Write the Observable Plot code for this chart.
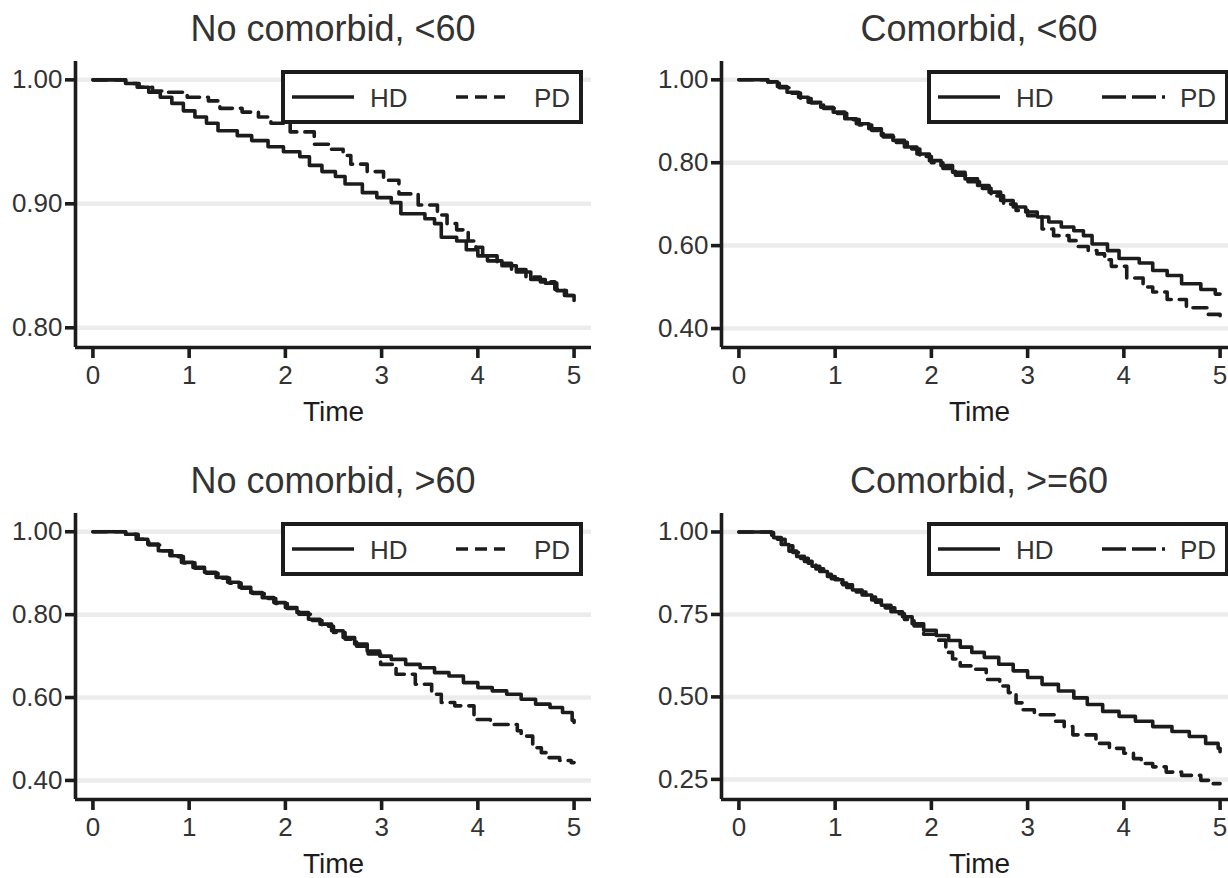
<!DOCTYPE html>
<html><head><meta charset="utf-8">
<script src="https://cdn.jsdelivr.net/npm/d3@7"></script>
<script src="https://cdn.jsdelivr.net/npm/@observablehq/plot@0.6"></script>
<style>
html,body{margin:0;padding:0;background:#fff;overflow:hidden;}
#fig{position:relative;width:1228px;height:878px;overflow:hidden;background:#fff;font-family:"Liberation Sans",Arial,sans-serif;}
.title{position:absolute;font-size:36px;line-height:36px;color:#333;text-align:center;white-space:nowrap;}
.plotbox{position:absolute;}
.plotbox svg{max-width:none !important;}
.legend{position:absolute;}
</style></head><body><div id="fig"></div>
<script>
// ---- data ----
const timeTicks = [0, 1, 2, 3, 4, 5];
const panelTitles = ["No comorbid, <60", "Comorbid, <60", "No comorbid, >60", "Comorbid, >=60"];
const seriesNames = ["HD", "PD"];
const yTicksNoComLt60 = [0.80, 0.90, 1.00];
const yTicksComLt60 = [0.40, 0.60, 0.80, 1.00];
const yTicksNoComGt60 = [0.40, 0.60, 0.80, 1.00];
const yTicksComGe60 = [0.25, 0.50, 0.75, 1.00];

const hdNoComLt60 = [[0,1.000],[0.34,0.997],[0.46,0.994],[0.58,0.990],[0.70,0.986],[0.82,0.981],[0.94,0.975],[1.06,0.970],[1.18,0.965],[1.30,0.959],[1.50,0.955],[1.65,0.951],[1.82,0.946],[1.98,0.942],[2.15,0.938],[2.25,0.931],[2.38,0.926],[2.52,0.922],[2.62,0.916],[2.80,0.909],[2.95,0.905],[3.10,0.901],[3.20,0.892],[3.45,0.888],[3.55,0.884],[3.62,0.873],[3.78,0.870],[3.88,0.863],[4.00,0.858],[4.10,0.854],[4.25,0.850],[4.40,0.845],[4.55,0.839],[4.70,0.836],[4.82,0.830],[4.92,0.826],[5.00,0.822]];
const pdNoComLt60 = [[0,1.000],[0.34,0.997],[0.48,0.994],[0.62,0.991],[0.78,0.990],[0.98,0.986],[1.20,0.983],[1.32,0.977],[1.55,0.974],[1.72,0.970],[1.85,0.965],[2.05,0.958],[2.30,0.948],[2.45,0.944],[2.60,0.939],[2.68,0.932],[2.85,0.926],[3.02,0.919],[3.18,0.908],[3.38,0.899],[3.58,0.891],[3.68,0.884],[3.78,0.879],[3.90,0.870],[3.98,0.865],[4.05,0.858],[4.20,0.852],[4.35,0.847],[4.50,0.841],[4.65,0.837],[4.80,0.831],[4.90,0.826],[5.00,0.822]];

const hdComLt60 = [[0,1.000],[0.30,0.995],[0.40,0.984],[0.50,0.970],[0.62,0.958],[0.72,0.946],[0.85,0.934],[0.98,0.922],[1.10,0.906],[1.22,0.894],[1.35,0.882],[1.48,0.866],[1.60,0.854],[1.72,0.838],[1.85,0.821],[1.98,0.805],[2.10,0.793],[2.22,0.777],[2.35,0.761],[2.48,0.745],[2.60,0.729],[2.72,0.709],[2.85,0.693],[2.98,0.681],[3.10,0.669],[3.22,0.657],[3.35,0.645],[3.48,0.636],[3.58,0.624],[3.67,0.604],[3.83,0.588],[3.95,0.569],[4.16,0.558],[4.30,0.540],[4.45,0.528],[4.60,0.508],[4.80,0.494],[4.95,0.483],[5.00,0.483]];
const pdComLt60 = [[0,1.000],[0.30,0.995],[0.42,0.981],[0.52,0.968],[0.64,0.955],[0.75,0.944],[0.88,0.931],[1.00,0.919],[1.12,0.904],[1.25,0.891],[1.38,0.878],[1.50,0.862],[1.62,0.849],[1.75,0.833],[1.88,0.815],[2.00,0.800],[2.12,0.786],[2.25,0.770],[2.38,0.754],[2.50,0.738],[2.62,0.720],[2.75,0.700],[2.88,0.685],[3.00,0.672],[3.15,0.640],[3.27,0.624],[3.43,0.612],[3.52,0.598],[3.63,0.588],[3.72,0.580],[3.80,0.566],[3.87,0.550],[4.03,0.522],[4.20,0.500],[4.30,0.488],[4.45,0.470],[4.65,0.450],[4.87,0.434],[5.00,0.431]];

const hdNoComGt60 = [[0,1.000],[0.34,0.994],[0.45,0.982],[0.57,0.970],[0.68,0.954],[0.80,0.942],[0.92,0.926],[1.04,0.914],[1.16,0.902],[1.28,0.890],[1.40,0.878],[1.52,0.866],[1.64,0.853],[1.76,0.841],[1.88,0.829],[2.00,0.817],[2.12,0.805],[2.24,0.789],[2.36,0.777],[2.48,0.761],[2.60,0.745],[2.72,0.729],[2.85,0.712],[2.98,0.700],[3.10,0.692],[3.25,0.680],[3.40,0.672],[3.55,0.660],[3.70,0.652],[3.85,0.636],[4.00,0.624],[4.15,0.616],[4.30,0.608],[4.45,0.596],[4.60,0.584],[4.75,0.576],[4.88,0.564],[4.98,0.545],[5.00,0.540]];
const pdNoComGt60 = [[0,1.000],[0.34,0.994],[0.47,0.982],[0.58,0.968],[0.70,0.954],[0.82,0.940],[0.94,0.925],[1.06,0.912],[1.18,0.900],[1.30,0.888],[1.42,0.876],[1.54,0.864],[1.66,0.851],[1.78,0.839],[1.90,0.827],[2.02,0.815],[2.14,0.801],[2.26,0.786],[2.38,0.772],[2.50,0.757],[2.62,0.741],[2.74,0.724],[2.86,0.705],[2.99,0.680],[3.15,0.656],[3.35,0.632],[3.52,0.608],[3.62,0.588],[3.76,0.580],[3.96,0.547],[4.13,0.535],[4.41,0.520],[4.45,0.507],[4.57,0.479],[4.66,0.467],[4.74,0.455],[4.85,0.448],[4.97,0.443],[5.00,0.443]];

const hdComGe60 = [[0,1.000],[0.34,0.998],[0.36,0.983],[0.44,0.962],[0.52,0.942],[0.60,0.926],[0.68,0.911],[0.76,0.896],[0.84,0.880],[0.92,0.865],[1.00,0.855],[1.08,0.840],[1.18,0.824],[1.28,0.809],[1.38,0.794],[1.48,0.778],[1.58,0.758],[1.70,0.743],[1.80,0.722],[1.92,0.702],[2.05,0.686],[2.18,0.671],[2.30,0.651],[2.42,0.635],[2.55,0.620],[2.70,0.599],[2.85,0.579],[3.00,0.559],[3.15,0.538],[3.32,0.518],[3.48,0.497],[3.62,0.477],[3.78,0.456],[3.95,0.441],[4.12,0.426],[4.30,0.410],[4.50,0.395],[4.68,0.380],[4.85,0.359],[4.98,0.344],[5.00,0.334]];
const pdComGe60 = [[0,1.000],[0.34,0.990],[0.40,0.978],[0.48,0.958],[0.56,0.938],[0.64,0.920],[0.72,0.905],[0.80,0.888],[0.88,0.872],[0.96,0.858],[1.04,0.845],[1.12,0.832],[1.22,0.818],[1.32,0.803],[1.42,0.787],[1.52,0.770],[1.62,0.752],[1.72,0.735],[1.82,0.715],[1.92,0.690],[2.05,0.672],[2.15,0.635],[2.22,0.615],[2.30,0.594],[2.42,0.584],[2.57,0.553],[2.71,0.533],[2.80,0.513],[2.88,0.482],[2.95,0.461],[3.07,0.446],[3.29,0.426],[3.38,0.410],[3.47,0.385],[3.71,0.359],[3.85,0.344],[4.00,0.329],[4.10,0.313],[4.18,0.298],[4.30,0.288],[4.44,0.272],[4.60,0.262],[4.80,0.247],[4.92,0.237],[5.00,0.237]];

// ---- layout ----
const ink = "#1c1c1c";
const fontFam = '"Liberation Sans", Arial, sans-serif';
const xDom = [-0.181, 5.181];
const panels = [
  {title: panelTitles[0], hd: hdNoComLt60, pd: pdNoComLt60, yTicks: yTicksNoComLt60, yDomain: [0.7841, 1.0148], ox: 0, oy: 0, legDash: "12,7", legLen: 49},
  {title: panelTitles[1], hd: hdComLt60, pd: pdComLt60, yTicks: yTicksComLt60, yDomain: [0.3542, 1.0442], ox: 646, oy: 0, legDash: "24,6", legLen: 63},
  {title: panelTitles[2], hd: hdNoComGt60, pd: pdNoComGt60, yTicks: yTicksNoComGt60, yDomain: [0.354, 1.044], ox: 0, oy: 452, legDash: "12,7", legLen: 49},
  {title: panelTitles[3], hd: hdComGe60, pd: pdComGe60, yTicks: yTicksComGe60, yDomain: [0.189, 1.056], ox: 646, oy: 452, legDash: "24,6", legLen: 63}
];

const fig = document.getElementById("fig");
const W = 614, mL = 75, mR = 23, svgTopOff = 50, H = 385, mT = 11, mB = 88;

for (const p of panels) {
  const t = document.createElement("div");
  t.className = "title";
  t.textContent = p.title;
  t.style.left = (p.ox + mL) + "px";
  t.style.width = (W - mL - mR) + "px";
  t.style.top = (p.oy + 11) + "px";
  fig.appendChild(t);

  const chart = Plot.plot({
    width: W, height: H,
    marginLeft: mL, marginRight: mR, marginTop: mT, marginBottom: mB,
    style: {fontFamily: fontFam, fontSize: "26px", color: ink, background: "transparent", overflow: "visible", maxWidth: "none"},
    x: {domain: xDom},
    y: {domain: p.yDomain},
    marks: [
      Plot.ruleY(p.yTicks, {stroke: "#ececec", strokeWidth: 4.5}),
      Plot.line(p.hd, {x: d => d[0], y: d => d[1], curve: "step-after", stroke: ink, strokeWidth: 3.6}),
      Plot.line(p.pd, {x: d => d[0], y: d => d[1], curve: "step-after", stroke: ink, strokeWidth: 3.6, strokeDasharray: "14,8"}),
      Plot.ruleX([xDom[0]], {stroke: ink, strokeWidth: 3.6}),
      Plot.ruleY([p.yDomain[0]], {stroke: ink, strokeWidth: 3.6}),
      Plot.axisY({ticks: p.yTicks, tickFormat: d => d.toFixed(2), tickSize: 10, tickPadding: 3, strokeWidth: 3.6, fontSize: 26, fill: "#333", label: null}),
      Plot.axisX({ticks: timeTicks, tickFormat: d => String(d), tickSize: 11, tickPadding: 7, strokeWidth: 3.6, fontSize: 26, fill: "#333", label: null}),
      Plot.text(["Time"], {text: d => d, frameAnchor: "bottom", dy: 65, lineAnchor: "middle", fontSize: 28, fill: ink})
    ]
  });
  chart.style.maxWidth = "none";
  const box = document.createElement("div");
  box.className = "plotbox";
  box.style.left = p.ox + "px";
  box.style.top = (p.oy + svgTopOff) + "px";
  box.style.width = W + "px";
  box.style.height = H + "px";
  box.appendChild(chart);
  fig.appendChild(box);

  const L = d3.create("svg").attr("width", 302).attr("height", 54)
    .attr("class", "legend")
    .style("left", (p.ox + 281) + "px").style("top", (p.oy + 70) + "px")
    .style("font-family", fontFam);
  L.append("rect").attr("x", 2).attr("y", 2).attr("width", 298).attr("height", 50)
    .attr("fill", "#fff").attr("stroke", ink).attr("stroke-width", 4);
  L.append("line").attr("x1", 11).attr("x2", 73).attr("y1", 27).attr("y2", 27)
    .attr("stroke", ink).attr("stroke-width", 3.6);
  L.append("text").attr("x", 89).attr("y", 37).attr("font-size", 26).attr("fill", "#333").text(seriesNames[0]);
  L.append("line").attr("x1", 175).attr("x2", 175 + p.legLen).attr("y1", 27).attr("y2", 27)
    .attr("stroke", ink).attr("stroke-width", 3.6).attr("stroke-dasharray", p.legDash);
  L.append("text").attr("x", 253).attr("y", 37).attr("font-size", 26).attr("fill", "#333").text(seriesNames[1]);
  fig.appendChild(L.node());
}
</script></body></html>
